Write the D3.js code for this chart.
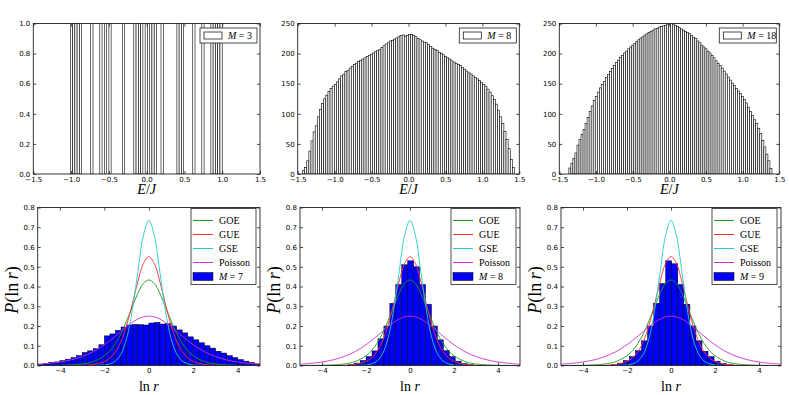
<!DOCTYPE html>
<html><head><meta charset="utf-8">
<script src="https://cdn.jsdelivr.net/npm/d3@7"></script>
<style>
body{margin:0;background:#fff}
svg{display:block}
.tick text{font-family:"DejaVu Sans",sans-serif;font-size:7px;fill:#000}
.tick line{stroke:#000;stroke-width:0.7}
.math{font-family:"Liberation Serif",serif}
</style></head><body>
<svg id="chart" width="789" height="395"></svg>
<script>
// ---------------- DATA ----------------
// Top row: level histograms (E/J)
const energyTicks = [-1.5, -1.0, -0.5, 0.0, 0.5, 1.0, 1.5];
const m3Ticks = [0.0, 0.2, 0.4, 0.6, 0.8, 1.0];
const countTicks = [0, 50, 100, 150, 200, 250];

const m3BinWidth = 0.03;
const m3BinLeft = [-1.01, -0.98, -0.95, -0.92, -0.89, -0.74, -0.62, -0.56, -0.50, -0.32,
  -0.17, -0.14, -0.11, -0.08, -0.02, 0.04, 0.07, 0.10, 0.19, 0.40, 0.43, 0.46, 0.61, 0.73,
  0.85, 0.88, 0.91, 0.94, 0.97];
const m3Counts = [1,1,1,1,1,1,1,1,1,1,1,1,1,1,1,1,1,1,1,1,1,1,1,1,1,1,1,1,1];

const m8Start = -1.435, m8BinWidth = 0.0287;
const m8Counts = [6,11,22,38,55,70,80,95,107,117,125,131,137,142,146,149,153,158,163,166,
  170,172,176,179,182,184,187,189,191,193,195,197,199,201,203,205,207,210,213,216,
  218,221,222,224,226,228,230,231,229,230,232,232,230,228,225,223,221,219,218,215,
  212,209,207,205,202,200,198,195,193,191,188,186,184,182,180,177,174,171,168,166,
  163,160,158,155,152,149,146,141,136,130,124,116,106,95,84,71,57,42,24,11];

const m18Start = -1.37, m18BinWidth = 0.0277;
const m18Counts = [10,18,26,35,48,57,66,74,84,94,104,113,122,129,136,143,149,154,160,165,
  170,175,180,185,189,194,197,201,204,208,211,214,217,220,223,226,228,231,233,235,
  237,239,241,242,244,245,246,247,249,248,250,249,247,245,243,241,239,237,235,233,
  230,227,225,221,218,214,211,208,204,201,197,193,188,184,180,176,171,166,161,156,
  151,147,142,138,134,129,124,118,111,104,97,90,84,76,67,56,45,33,22,9];

// Bottom row: P(ln r) histograms and reference curves
const lnrTicks = [-4, -2, 0, 2, 4];
const probTicks = [0.0, 0.1, 0.2, 0.3, 0.4, 0.5, 0.6, 0.7, 0.8];

const m7Start = -5.0, m7BinWidth = 0.25;
const m7Heights = [0.006,0.010,0.016,0.018,0.025,0.032,0.040,0.050,0.066,0.074,
  0.085,0.105,0.150,0.160,0.178,0.195,0.205,0.208,0.207,0.205,
  0.215,0.218,0.210,0.212,0.200,0.180,0.165,0.145,0.130,0.115,
  0.100,0.088,0.072,0.063,0.050,0.040,0.030,0.022,0.015,0.008];

const m8bStart = -2.806, m8bBinWidth = 0.27;
const m8bHeights = [0.005,0.012,0.025,0.045,0.074,0.135,0.200,0.315,0.410,0.510,0.530,
  0.500,0.410,0.310,0.200,0.130,0.075,0.045,0.022,0.010,0.004];

const m9Start = -2.717, m9BinWidth = 0.275;
const m9Heights = [0.005,0.012,0.025,0.045,0.075,0.125,0.200,0.315,0.415,0.530,
  0.515,0.410,0.310,0.200,0.125,0.072,0.045,0.022,0.010,0.004];

const curveX = [-5,-4.5,-4,-3.5,-3,-2.5,-2,-1.75,-1.5,-1.25,-1,-0.75,-0.5,-0.25,0,
  0.25,0.5,0.75,1,1.25,1.5,1.75,2,2.5,3,3.5,4,4.5,5];
const goeY = [0.0002,0.0004,0.0011,0.0029,0.0077,0.0199,0.0491,0.0752,0.1124,0.1626,0.2255,0.2962,0.3642,0.4144,0.4330,
  0.4144,0.3642,0.2962,0.2255,0.1626,0.1124,0.0752,0.0491,0.0199,0.0077,0.0029,0.0011,0.0004,0.0002];
const gueY = [0,0,0.0001,0.0003,0.0012,0.0052,0.0201,0.0384,0.0707,0.1239,0.2037,0.3087,0.4231,0.5155,0.5513,
  0.5155,0.4231,0.3087,0.2037,0.1239,0.0707,0.0384,0.0201,0.0052,0.0012,0.0003,0.0001,0,0];
const gseY = [0,0,0,0,0,0.0003,0.0028,0.0082,0.0230,0.0591,0.1367,0.2757,0.4697,0.6562,0.7351,
  0.6562,0.4697,0.2757,0.1367,0.0591,0.0230,0.0082,0.0028,0.0003,0,0,0,0,0];
const poissonY = [0.0066,0.0109,0.0177,0.0285,0.0452,0.0701,0.1050,0.1261,0.1491,0.1731,0.1966,0.2179,0.2350,0.2461,0.2500,
  0.2461,0.2350,0.2179,0.1966,0.1731,0.1491,0.1261,0.1050,0.0701,0.0452,0.0285,0.0177,0.0109,0.0066];

const curveNames = ["GOE", "GUE", "GSE", "Poisson"];
const curveColors = ["#1f9a1f", "#ff3030", "#20cccc", "#d030d0"];

// ---------------- LAYOUT ----------------
const topRow = {y0: 23.5, y1: 174};
const botRow = {y0: 207.5, y1: 365.5};
const topCols = [[33.3, 260], [297.7, 519.3], [559.3, 779.3]];
const botCols = [[37.7, 260], [300, 520], [561, 781]];

const svg = d3.select("#chart");

function axes(g, xs, ys, xTicks, yTicks, xFmt, yFmt) {
  const [x0, x1] = xs.range();
  const [yb, yt] = ys.range();
  g.append("g").attr("transform", `translate(0,${yb})`)
    .call(d3.axisBottom(xs).tickValues(xTicks).tickFormat(xFmt).tickSizeInner(-3).tickSizeOuter(0).tickPadding(3))
    .call(a => a.select(".domain").remove());
  g.append("g").attr("transform", `translate(0,${yt})`)
    .call(d3.axisTop(xs).tickValues(xTicks).tickFormat("").tickSizeInner(-3).tickSizeOuter(0))
    .call(a => a.select(".domain").remove());
  g.append("g").attr("transform", `translate(${x0},0)`)
    .call(d3.axisLeft(ys).tickValues(yTicks).tickFormat(yFmt).tickSizeInner(-3).tickSizeOuter(0).tickPadding(3))
    .call(a => a.select(".domain").remove());
  g.append("g").attr("transform", `translate(${x1},0)`)
    .call(d3.axisRight(ys).tickValues(yTicks).tickFormat("").tickSizeInner(-3).tickSizeOuter(0))
    .call(a => a.select(".domain").remove());
  g.append("rect").attr("x", x0).attr("y", yt).attr("width", x1 - x0).attr("height", yb - yt)
    .attr("fill", "none").attr("stroke", "#222").attr("stroke-width", 0.9);
}

function mathLabel(g, x, y, parts, size, rotate) {
  const t = g.append("text").attr("class", "math").attr("font-size", size)
    .attr("text-anchor", "middle");
  if (rotate) t.attr("transform", `translate(${x},${y}) rotate(-90)`);
  else t.attr("x", x).attr("y", y);
  parts.forEach(p => t.append("tspan").attr("font-style", p[1] ? "italic" : "normal").text(p[0]));
  return t;
}

function clipFor(id, x0, x1, y0, y1) {
  svg.append("clipPath").attr("id", id).append("rect")
    .attr("x", x0).attr("y", y0).attr("width", x1 - x0).attr("height", y1 - y0);
}

// ---------------- TOP ROW ----------------
const topPanels = [
  {label: "3", ymax: 1.0, yTicks: m3Ticks, yFmt: d3.format(".1f"),
   bins: m3BinLeft.map((l, i) => ({l, w: m3BinWidth, v: m3Counts[i]}))},
  {label: "8", ymax: 250, yTicks: countTicks, yFmt: d3.format("d"),
   bins: m8Counts.map((v, i) => ({l: m8Start + i * m8BinWidth, w: m8BinWidth, v}))},
  {label: "18", ymax: 250, yTicks: countTicks, yFmt: d3.format("d"),
   bins: m18Counts.map((v, i) => ({l: m18Start + i * m18BinWidth, w: m18BinWidth, v}))}
];

topPanels.forEach((p, i) => {
  const [x0, x1] = topCols[i];
  const xs = d3.scaleLinear().domain([-1.5, 1.5]).range([x0, x1]);
  const ys = d3.scaleLinear().domain([0, p.ymax]).range([topRow.y1, topRow.y0]);
  const g = svg.append("g");
  clipFor("ct" + i, x0, x1, topRow.y0, topRow.y1);
  g.append("g").attr("clip-path", `url(#ct${i})`).selectAll("rect").data(p.bins).join("rect")
    .attr("x", d => xs(d.l)).attr("width", d => xs(d.l + d.w) - xs(d.l))
    .attr("y", d => ys(Math.min(d.v, p.ymax))).attr("height", d => ys(0) - ys(Math.min(d.v, p.ymax)))
    .attr("fill", "#fff").attr("stroke", "#000").attr("stroke-width", 0.6);
  axes(g, xs, ys, energyTicks, p.yTicks, d3.format(".1f"), p.yFmt);
  // legend
  const lx = x1 - 60, ly = topRow.y0 + 4.5;
  g.append("rect").attr("x", lx).attr("y", ly).attr("width", 57).attr("height", 15)
    .attr("fill", "#fff").attr("stroke", "#222").attr("stroke-width", 0.8);
  g.append("rect").attr("x", lx + 4).attr("y", ly + 4).attr("width", 18).attr("height", 7)
    .attr("fill", "#fff").attr("stroke", "#000").attr("stroke-width", 0.7);
  const t = g.append("text").attr("class", "math").attr("font-size", 10).attr("x", lx + 28).attr("y", ly + 11);
  t.append("tspan").attr("font-style", "italic").text("M");
  t.append("tspan").text(" = " + p.label);
  mathLabel(g, (x0 + x1) / 2, 194, [["E", true], ["/", false], ["J", true]], 14);
});

// ---------------- BOTTOM ROW ----------------
const curves = [goeY, gueY, gseY, poissonY];
const botPanels = [
  {label: "7", start: m7Start, w: m7BinWidth, h: m7Heights},
  {label: "8", start: m8bStart, w: m8bBinWidth, h: m8bHeights},
  {label: "9", start: m9Start, w: m9BinWidth, h: m9Heights}
];
const line = d3.line().curve(d3.curveCatmullRom.alpha(0.5));

botPanels.forEach((p, i) => {
  const [x0, x1] = botCols[i];
  const xs = d3.scaleLinear().domain([-5, 5]).range([x0, x1]);
  const ys = d3.scaleLinear().domain([0, 0.8]).range([botRow.y1, botRow.y0]);
  const g = svg.append("g");
  clipFor("cb" + i, x0, x1, botRow.y0, botRow.y1);
  const inner = g.append("g").attr("clip-path", `url(#cb${i})`);
  inner.selectAll("rect").data(p.h).join("rect")
    .attr("x", (d, k) => xs(p.start + k * p.w)).attr("width", xs(p.w) - xs(0))
    .attr("y", d => ys(d)).attr("height", d => ys(0) - ys(d))
    .attr("fill", "#0000ff").attr("stroke", "#000").attr("stroke-width", 0.5);
  curves.forEach((c, j) => {
    inner.append("path").attr("d", line(curveX.map((x, k) => [xs(x), ys(c[k])])))
      .attr("fill", "none").attr("stroke", curveColors[j]).attr("stroke-width", 0.9);
  });
  axes(g, xs, ys, lnrTicks, probTicks, d3.format("d"), d3.format(".1f"));
  // legend
  const lx = x1 - 69, ly = botRow.y0 + 1;
  g.append("rect").attr("x", lx).attr("y", ly).attr("width", 65).attr("height", 76)
    .attr("fill", "#fff").attr("stroke", "#222").attr("stroke-width", 0.8);
  curveNames.forEach((n, j) => {
    const yy = ly + 12 + j * 14;
    g.append("line").attr("x1", lx + 2).attr("x2", lx + 22).attr("y1", yy).attr("y2", yy)
      .attr("stroke", curveColors[j]).attr("stroke-width", 1);
    g.append("text").attr("class", "math").attr("font-size", 10).attr("x", lx + 28).attr("y", yy + 3.5).text(n);
  });
  const yb = ly + 12 + 4 * 14;
  g.append("rect").attr("x", lx + 2).attr("y", yb - 4).attr("width", 20).attr("height", 8)
    .attr("fill", "#0000ff").attr("stroke", "#000").attr("stroke-width", 0.5);
  const t = g.append("text").attr("class", "math").attr("font-size", 10).attr("x", lx + 28).attr("y", yb + 3.5);
  t.append("tspan").attr("font-style", "italic").text("M");
  t.append("tspan").text(" = " + p.label);
  mathLabel(g, (x0 + x1) / 2, 391, [["ln", false], [" r", true]], 14);
  mathLabel(g, x0 - 20, 290, [["P", true], ["(ln", false], ["\u2009r", true], [")", false]], 18, true);
});
</script>
</body></html>
